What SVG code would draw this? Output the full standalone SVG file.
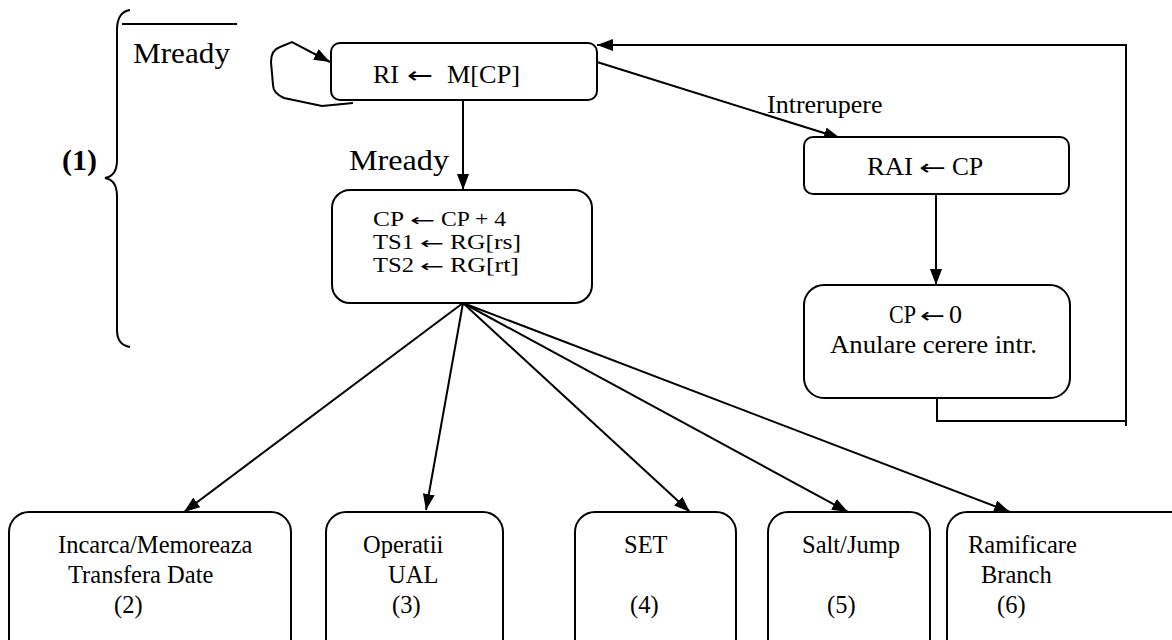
<svg xmlns="http://www.w3.org/2000/svg" width="1172" height="640" viewBox="0 0 1172 640">
<style>
text{font-family:"Liberation Serif","Times New Roman",serif;fill:#000}
.ar{font-family:"DejaVu Sans",sans-serif}
.box{fill:#fff;stroke:#000;stroke-width:2}
.ln{fill:none;stroke:#000;stroke-width:2}
.t26{font-size:26px}
.t20{font-size:20px}
.t24{font-size:24.5px}
.t30{font-size:30px}
</style>
<defs>
<marker id="ah" viewBox="0 0 16 12" refX="16" refY="6" markerWidth="16" markerHeight="12" markerUnits="userSpaceOnUse" orient="auto">
<path d="M0,0 L16,6 L0,12 Z" fill="#000"/>
</marker>
</defs>
<rect width="1172" height="640" fill="#fff"/>

<g id="brace">
<path class="ln" d="M130 10 Q117 12 117 30 L117 160 Q117 176 105 178 Q117 180 117 196 L117 330 Q117 345 130 347"/>
<text x="62" y="170" class="t30" font-weight="bold">(1)</text>
<line x1="122" y1="24" x2="237" y2="24" stroke="#000" stroke-width="2"/>
<text x="133" y="63" class="t30" textLength="97" lengthAdjust="spacingAndGlyphs">Mready</text>
</g>

<g id="connectors">
<path class="ln" d="M353 103 L322 106 L284 98 Q273 93 273 85 L271 62 Q271 50 280 47 L292 42 L330 62" marker-end="url(#ah)"/>
<line class="ln" x1="463" y1="100" x2="463" y2="190" marker-end="url(#ah)"/>
<text x="349" y="170" class="t30" textLength="100" lengthAdjust="spacingAndGlyphs">Mready</text>
<line class="ln" x1="597" y1="62" x2="840" y2="138" marker-end="url(#ah)"/>
<text x="767" y="113" class="t26">Intrerupere</text>
<line class="ln" x1="936" y1="194" x2="936" y2="285" marker-end="url(#ah)"/>
<path class="ln" d="M937 398 L937 421 L1126 421"/>
<path class="ln" d="M1126 426 L1126 45 L597 45" marker-end="url(#ah)"/>
<line class="ln" x1="463" y1="303" x2="184" y2="512" marker-end="url(#ah)"/>
<line class="ln" x1="463" y1="303" x2="426" y2="510" marker-end="url(#ah)"/>
<line class="ln" x1="463" y1="303" x2="690" y2="512" marker-end="url(#ah)"/>
<line class="ln" x1="463" y1="303" x2="848" y2="512" marker-end="url(#ah)"/>
<line class="ln" x1="463" y1="303" x2="1010" y2="512" marker-end="url(#ah)"/>
</g>

<g id="ri">
<rect class="box" x="331" y="43" width="266" height="57" rx="9"/>
<text y="83" class="t26"><tspan x="373">RI</tspan><tspan x="407" class="ar" font-size="23" textLength="26" lengthAdjust="spacingAndGlyphs">←</tspan><tspan x="447" textLength="73" lengthAdjust="spacingAndGlyphs">M[CP]</tspan></text>
</g>

<g id="cp">
<rect class="box" x="332" y="190" width="260" height="113" rx="18"/>
<text y="226" class="t20"><tspan x="373" textLength="31" lengthAdjust="spacingAndGlyphs">CP</tspan><tspan x="410" class="ar" font-size="17" textLength="25" lengthAdjust="spacingAndGlyphs">←</tspan><tspan x="441" textLength="65" lengthAdjust="spacingAndGlyphs">CP + 4</tspan></text>
<text y="249" class="t20"><tspan x="373" textLength="41" lengthAdjust="spacingAndGlyphs">TS1</tspan><tspan x="420" class="ar" font-size="17" textLength="24" lengthAdjust="spacingAndGlyphs">←</tspan><tspan x="450" textLength="71" lengthAdjust="spacingAndGlyphs">RG[rs]</tspan></text>
<text y="272" class="t20"><tspan x="373" textLength="41" lengthAdjust="spacingAndGlyphs">TS2</tspan><tspan x="420" class="ar" font-size="17" textLength="24" lengthAdjust="spacingAndGlyphs">←</tspan><tspan x="450" textLength="69" lengthAdjust="spacingAndGlyphs">RG[rt]</tspan></text>
</g>

<g id="rai">
<rect class="box" x="804" y="137" width="265" height="57" rx="9"/>
<text y="175" class="t26"><tspan x="867" textLength="46" lengthAdjust="spacingAndGlyphs">RAI</tspan><tspan x="919" class="ar" font-size="22" textLength="27" lengthAdjust="spacingAndGlyphs">←</tspan><tspan x="952" textLength="31" lengthAdjust="spacingAndGlyphs">CP</tspan></text>
</g>

<g id="cp0">
<rect class="box" x="804" y="285" width="266" height="113" rx="20"/>
<text y="323" class="t26"><tspan x="889" textLength="27" lengthAdjust="spacingAndGlyphs">CP</tspan><tspan x="920" class="ar" font-size="21" textLength="25" lengthAdjust="spacingAndGlyphs">←</tspan><tspan x="949">0</tspan></text>
<text x="830" y="353" class="t26" textLength="207" lengthAdjust="spacingAndGlyphs">Anulare cerere intr.</text>
</g>

<g id="b2">
<rect class="box" x="9" y="512" width="282" height="150" rx="20"/>
<text x="58" y="553" class="t24">Incarca/Memoreaza</text>
<text x="68" y="583" class="t24">Transfera Date</text>
<text x="114" y="613" class="t24">(2)</text>
</g>

<g id="b3">
<rect class="box" x="326" y="512" width="177" height="150" rx="20"/>
<text x="363" y="553" class="t24">Operatii</text>
<text x="388" y="583" class="t24">UAL</text>
<text x="392" y="613" class="t24">(3)</text>
</g>

<g id="b4">
<rect class="box" x="575" y="512" width="161" height="150" rx="20"/>
<text x="624" y="553" class="t24">SET</text>
<text x="630" y="613" class="t24">(4)</text>
</g>

<g id="b5">
<rect class="box" x="768" y="512" width="162" height="150" rx="20"/>
<text x="802" y="553" class="t24">Salt/Jump</text>
<text x="827" y="613" class="t24">(5)</text>
</g>

<g id="b6">
<rect class="box" x="947" y="512" width="260" height="150" rx="20"/>
<text x="968" y="553" class="t24">Ramificare</text>
<text x="981" y="583" class="t24">Branch</text>
<text x="997" y="613" class="t24">(6)</text>
</g>
</svg>
